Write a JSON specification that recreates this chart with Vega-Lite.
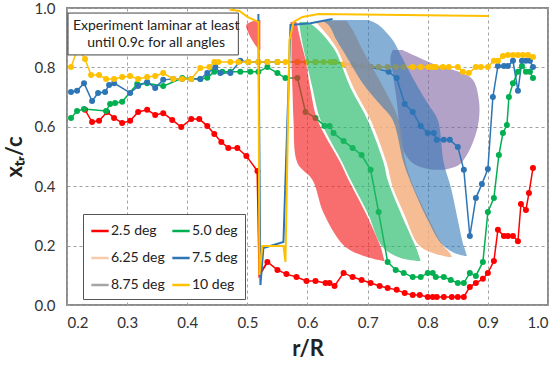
{
  "$schema": "https://vega.github.io/schema/vega-lite/v6.json",
  "width": 481,
  "height": 297,
  "autosize": {"type": "none"},
  "padding": {"left": 67, "top": 8, "right": 12, "bottom": 60},
  "background": "white",
  "config": {
    "font": "Lato",
    "view": {"stroke": "#8c8c8c", "strokeWidth": 2},
    "axis": {"grid": true, "gridDash": [3, 3], "gridColor": "#a0a0a0", "domain": false, "ticks": false, "labelFontSize": 15, "labelColor": "#333", "titleFontSize": 22, "titleFontWeight": "bold", "titleColor": "#222"},
    "legend": {"orient": "none", "legendX": 16, "legendY": 206, "columns": 2, "symbolType": "stroke", "symbolSize": 300, "symbolStrokeWidth": 2.5, "labelFontSize": 14, "labelColor": "#222", "padding": 7, "strokeColor": "#555", "fillColor": "white", "rowPadding": 10, "columnPadding": 2, "labelOffset": 1}
  },
  "datasets": {
    "markers": [
      {"s":"2.5 deg","p":1,"x":0.23,"y":0.657},{"s":"2.5 deg","p":1,"x":0.2417,"y":0.616},{"s":"2.5 deg","p":1,"x":0.2533,"y":0.62},{"s":"2.5 deg","p":1,"x":0.2667,"y":0.65},{"s":"2.5 deg","p":1,"x":0.2783,"y":0.63},{"s":"2.5 deg","p":1,"x":0.2917,"y":0.613},{"s":"2.5 deg","p":1,"x":0.305,"y":0.62},{"s":"2.5 deg","p":1,"x":0.3183,"y":0.65},{"s":"2.5 deg","p":1,"x":0.3333,"y":0.657},{"s":"2.5 deg","p":1,"x":0.3467,"y":0.64},{"s":"2.5 deg","p":1,"x":0.36,"y":0.646},{"s":"2.5 deg","p":1,"x":0.375,"y":0.623},{"s":"2.5 deg","p":1,"x":0.39,"y":0.599},{"s":"2.5 deg","p":1,"x":0.4067,"y":0.626},{"s":"2.5 deg","p":1,"x":0.42,"y":0.626},{"s":"2.5 deg","p":1,"x":0.4333,"y":0.603},{"s":"2.5 deg","p":1,"x":0.445,"y":0.576},{"s":"2.5 deg","p":1,"x":0.4567,"y":0.549},{"s":"2.5 deg","p":1,"x":0.4683,"y":0.529},{"s":"2.5 deg","p":1,"x":0.4833,"y":0.529},{"s":"2.5 deg","p":1,"x":0.4983,"y":0.502},{"s":"2.5 deg","p":1,"x":0.5167,"y":0.451},
      {"s":"2.5 deg","p":2,"x":0.5333,"y":0.145},{"s":"2.5 deg","p":2,"x":0.55,"y":0.118},{"s":"2.5 deg","p":2,"x":0.565,"y":0.104},{"s":"2.5 deg","p":2,"x":0.5817,"y":0.094},{"s":"2.5 deg","p":2,"x":0.5983,"y":0.081},{"s":"2.5 deg","p":2,"x":0.6133,"y":0.081},{"s":"2.5 deg","p":2,"x":0.63,"y":0.074},{"s":"2.5 deg","p":2,"x":0.6367,"y":0.074},{"s":"2.5 deg","p":2,"x":0.645,"y":0.064},{"s":"2.5 deg","p":2,"x":0.66,"y":0.108},{"s":"2.5 deg","p":2,"x":0.675,"y":0.094},{"s":"2.5 deg","p":2,"x":0.69,"y":0.084},{"s":"2.5 deg","p":2,"x":0.705,"y":0.074},{"s":"2.5 deg","p":2,"x":0.72,"y":0.064},{"s":"2.5 deg","p":2,"x":0.7333,"y":0.057},{"s":"2.5 deg","p":2,"x":0.7483,"y":0.051},{"s":"2.5 deg","p":2,"x":0.7617,"y":0.04},{"s":"2.5 deg","p":2,"x":0.775,"y":0.034},{"s":"2.5 deg","p":2,"x":0.7867,"y":0.034},{"s":"2.5 deg","p":2,"x":0.8,"y":0.027},{"s":"2.5 deg","p":2,"x":0.8083,"y":0.027},{"s":"2.5 deg","p":2,"x":0.815,"y":0.027},{"s":"2.5 deg","p":2,"x":0.8267,"y":0.027},{"s":"2.5 deg","p":2,"x":0.84,"y":0.027},{"s":"2.5 deg","p":2,"x":0.85,"y":0.027},{"s":"2.5 deg","p":2,"x":0.86,"y":0.027},{"s":"2.5 deg","p":2,"x":0.87,"y":0.061},{"s":"2.5 deg","p":2,"x":0.88,"y":0.074},{"s":"2.5 deg","p":2,"x":0.8917,"y":0.088},{"s":"2.5 deg","p":2,"x":0.9,"y":0.108},{"s":"2.5 deg","p":2,"x":0.91,"y":0.148},{"s":"2.5 deg","p":2,"x":0.9167,"y":0.253},{"s":"2.5 deg","p":2,"x":0.9267,"y":0.232},{"s":"2.5 deg","p":2,"x":0.9333,"y":0.232},{"s":"2.5 deg","p":2,"x":0.9417,"y":0.232},{"s":"2.5 deg","p":2,"x":0.95,"y":0.215},{"s":"2.5 deg","p":2,"x":0.955,"y":0.34},{"s":"2.5 deg","p":2,"x":0.9633,"y":0.32},{"s":"2.5 deg","p":2,"x":0.9683,"y":0.377},{"s":"2.5 deg","p":2,"x":0.975,"y":0.461},
      {"s":"5.0 deg","p":1,"x":0.2067,"y":0.63},{"s":"5.0 deg","p":1,"x":0.2167,"y":0.653},{"s":"5.0 deg","p":1,"x":0.2283,"y":0.66},{"s":"5.0 deg","p":1,"x":0.265,"y":0.653},{"s":"5.0 deg","p":1,"x":0.2717,"y":0.677},{"s":"5.0 deg","p":1,"x":0.28,"y":0.68},{"s":"5.0 deg","p":1,"x":0.2917,"y":0.684},{"s":"5.0 deg","p":1,"x":0.3167,"y":0.744},{"s":"5.0 deg","p":1,"x":0.3333,"y":0.747},{"s":"5.0 deg","p":1,"x":0.36,"y":0.737},{"s":"5.0 deg","p":1,"x":0.3917,"y":0.764},{"s":"5.0 deg","p":1,"x":0.4217,"y":0.761},{"s":"5.0 deg","p":1,"x":0.4333,"y":0.765},{"s":"5.0 deg","p":1,"x":0.445,"y":0.785},{"s":"5.0 deg","p":1,"x":0.4583,"y":0.785},{"s":"5.0 deg","p":1,"x":0.4717,"y":0.785},{"s":"5.0 deg","p":1,"x":0.4883,"y":0.785},{"s":"5.0 deg","p":1,"x":0.505,"y":0.785},{"s":"5.0 deg","p":1,"x":0.5183,"y":0.785},{"s":"5.0 deg","p":1,"x":0.5333,"y":0.801},{"s":"5.0 deg","p":1,"x":0.55,"y":0.781},{"s":"5.0 deg","p":1,"x":0.5633,"y":0.764},{"s":"5.0 deg","p":1,"x":0.5833,"y":0.764},{"s":"5.0 deg","p":1,"x":0.5967,"y":0.65},{"s":"5.0 deg","p":1,"x":0.6133,"y":0.63},{"s":"5.0 deg","p":1,"x":0.6283,"y":0.603},{"s":"5.0 deg","p":1,"x":0.6367,"y":0.603},{"s":"5.0 deg","p":1,"x":0.6433,"y":0.579},{"s":"5.0 deg","p":1,"x":0.66,"y":0.552},{"s":"5.0 deg","p":1,"x":0.675,"y":0.529},{"s":"5.0 deg","p":1,"x":0.69,"y":0.505},{"s":"5.0 deg","p":1,"x":0.705,"y":0.455},{"s":"5.0 deg","p":1,"x":0.7183,"y":0.313},{"s":"5.0 deg","p":1,"x":0.7333,"y":0.145},{"s":"5.0 deg","p":1,"x":0.7467,"y":0.118},{"s":"5.0 deg","p":1,"x":0.76,"y":0.108},{"s":"5.0 deg","p":1,"x":0.775,"y":0.094},{"s":"5.0 deg","p":1,"x":0.7883,"y":0.094},{"s":"5.0 deg","p":1,"x":0.8,"y":0.108},{"s":"5.0 deg","p":1,"x":0.8083,"y":0.108},{"s":"5.0 deg","p":1,"x":0.8133,"y":0.094},{"s":"5.0 deg","p":1,"x":0.8267,"y":0.094},{"s":"5.0 deg","p":1,"x":0.8383,"y":0.084},{"s":"5.0 deg","p":1,"x":0.85,"y":0.074},{"s":"5.0 deg","p":1,"x":0.86,"y":0.074},{"s":"5.0 deg","p":1,"x":0.87,"y":0.108},{"s":"5.0 deg","p":1,"x":0.88,"y":0.098},{"s":"5.0 deg","p":1,"x":0.8917,"y":0.145},{"s":"5.0 deg","p":1,"x":0.9,"y":0.313},{"s":"5.0 deg","p":1,"x":0.91,"y":0.36},{"s":"5.0 deg","p":1,"x":0.9183,"y":0.505},{"s":"5.0 deg","p":1,"x":0.925,"y":0.579},{"s":"5.0 deg","p":1,"x":0.9317,"y":0.606},{"s":"5.0 deg","p":1,"x":0.935,"y":0.7},{"s":"5.0 deg","p":1,"x":0.9417,"y":0.747},{"s":"5.0 deg","p":1,"x":0.95,"y":0.785},{"s":"5.0 deg","p":1,"x":0.9567,"y":0.805},{"s":"5.0 deg","p":1,"x":0.9633,"y":0.785},{"s":"5.0 deg","p":1,"x":0.97,"y":0.785},{"s":"5.0 deg","p":1,"x":0.975,"y":0.764},
      {"s":"7.5 deg","p":1,"x":0.2067,"y":0.717},{"s":"7.5 deg","p":1,"x":0.2167,"y":0.721},{"s":"7.5 deg","p":1,"x":0.2283,"y":0.747},{"s":"7.5 deg","p":1,"x":0.2417,"y":0.687},{"s":"7.5 deg","p":1,"x":0.2517,"y":0.714},{"s":"7.5 deg","p":1,"x":0.2633,"y":0.717},{"s":"7.5 deg","p":1,"x":0.27,"y":0.741},{"s":"7.5 deg","p":1,"x":0.2783,"y":0.747},{"s":"7.5 deg","p":1,"x":0.305,"y":0.714},{"s":"7.5 deg","p":1,"x":0.3183,"y":0.737},{"s":"7.5 deg","p":1,"x":0.3333,"y":0.751},{"s":"7.5 deg","p":1,"x":0.3467,"y":0.731},{"s":"7.5 deg","p":1,"x":0.36,"y":0.758},{"s":"7.5 deg","p":1,"x":0.3767,"y":0.761},{"s":"7.5 deg","p":1,"x":0.3917,"y":0.761},{"s":"7.5 deg","p":1,"x":0.4067,"y":0.761},{"s":"7.5 deg","p":1,"x":0.4217,"y":0.761},{"s":"7.5 deg","p":1,"x":0.4333,"y":0.781},{"s":"7.5 deg","p":1,"x":0.4467,"y":0.801},{"s":"7.5 deg","p":1,"x":0.455,"y":0.781},{"s":"7.5 deg","p":1,"x":0.4717,"y":0.781},{"s":"7.5 deg","p":1,"x":0.4883,"y":0.822},{"s":"7.5 deg","p":1,"x":0.5017,"y":0.818},{"s":"7.5 deg","p":1,"x":0.5183,"y":0.818},{"s":"7.5 deg","p":1,"x":0.5333,"y":0.818},{"s":"7.5 deg","p":1,"x":0.55,"y":0.818},{"s":"7.5 deg","p":1,"x":0.5833,"y":0.818},{"s":"7.5 deg","p":1,"x":0.6133,"y":0.818},{"s":"7.5 deg","p":1,"x":0.645,"y":0.818},{"s":"7.5 deg","p":1,"x":0.6767,"y":0.808},{"s":"7.5 deg","p":1,"x":0.705,"y":0.801},{"s":"7.5 deg","p":1,"x":0.735,"y":0.785},{"s":"7.5 deg","p":1,"x":0.7483,"y":0.764},{"s":"7.5 deg","p":1,"x":0.7617,"y":0.677},{"s":"7.5 deg","p":1,"x":0.775,"y":0.65},{"s":"7.5 deg","p":1,"x":0.7883,"y":0.603},{"s":"7.5 deg","p":1,"x":0.8,"y":0.579},{"s":"7.5 deg","p":1,"x":0.81,"y":0.579},{"s":"7.5 deg","p":1,"x":0.815,"y":0.556},{"s":"7.5 deg","p":1,"x":0.8267,"y":0.556},{"s":"7.5 deg","p":1,"x":0.8367,"y":0.556},{"s":"7.5 deg","p":1,"x":0.85,"y":0.532},{"s":"7.5 deg","p":1,"x":0.86,"y":0.455},{"s":"7.5 deg","p":1,"x":0.87,"y":0.232},{"s":"7.5 deg","p":1,"x":0.88,"y":0.36},{"s":"7.5 deg","p":1,"x":0.89,"y":0.407},{"s":"7.5 deg","p":1,"x":0.9,"y":0.458},{"s":"7.5 deg","p":1,"x":0.9083,"y":0.7},{"s":"7.5 deg","p":1,"x":0.9167,"y":0.805},{"s":"7.5 deg","p":1,"x":0.9267,"y":0.805},{"s":"7.5 deg","p":1,"x":0.9333,"y":0.805},{"s":"7.5 deg","p":1,"x":0.9417,"y":0.822},{"s":"7.5 deg","p":1,"x":0.95,"y":0.721},{"s":"7.5 deg","p":1,"x":0.9567,"y":0.822},{"s":"7.5 deg","p":1,"x":0.9633,"y":0.822},{"s":"7.5 deg","p":1,"x":0.97,"y":0.822},{"s":"7.5 deg","p":1,"x":0.975,"y":0.801},
      {"s":"10 deg","p":1,"x":0.2067,"y":0.801},{"s":"10 deg","p":1,"x":0.2183,"y":0.865},{"s":"10 deg","p":1,"x":0.23,"y":0.828},{"s":"10 deg","p":1,"x":0.24,"y":0.774},{"s":"10 deg","p":1,"x":0.2533,"y":0.774},{"s":"10 deg","p":1,"x":0.265,"y":0.761},{"s":"10 deg","p":1,"x":0.2783,"y":0.761},{"s":"10 deg","p":1,"x":0.2917,"y":0.768},{"s":"10 deg","p":1,"x":0.305,"y":0.771},{"s":"10 deg","p":1,"x":0.3183,"y":0.761},{"s":"10 deg","p":1,"x":0.3333,"y":0.768},{"s":"10 deg","p":1,"x":0.3467,"y":0.771},{"s":"10 deg","p":1,"x":0.36,"y":0.781},{"s":"10 deg","p":1,"x":0.3767,"y":0.761},{"s":"10 deg","p":1,"x":0.3917,"y":0.761},{"s":"10 deg","p":1,"x":0.4067,"y":0.761},{"s":"10 deg","p":1,"x":0.4217,"y":0.798},{"s":"10 deg","p":1,"x":0.4367,"y":0.801},{"s":"10 deg","p":1,"x":0.445,"y":0.818},{"s":"10 deg","p":1,"x":0.4517,"y":0.818},{"s":"10 deg","p":1,"x":0.4717,"y":0.818},{"s":"10 deg","p":1,"x":0.485,"y":0.818},{"s":"10 deg","p":1,"x":0.5017,"y":0.818},{"s":"10 deg","p":1,"x":0.5183,"y":0.818},{"s":"10 deg","p":1,"x":0.5333,"y":0.818},{"s":"10 deg","p":1,"x":0.55,"y":0.818},{"s":"10 deg","p":1,"x":0.5633,"y":0.818},{"s":"10 deg","p":1,"x":0.5833,"y":0.818},{"s":"10 deg","p":1,"x":0.5983,"y":0.818},{"s":"10 deg","p":1,"x":0.6133,"y":0.818},{"s":"10 deg","p":1,"x":0.6267,"y":0.818},{"s":"10 deg","p":1,"x":0.6383,"y":0.818},{"s":"10 deg","p":1,"x":0.645,"y":0.818},{"s":"10 deg","p":1,"x":0.66,"y":0.811},{"s":"10 deg","p":1,"x":0.6767,"y":0.808},{"s":"10 deg","p":1,"x":0.6917,"y":0.805},{"s":"10 deg","p":1,"x":0.705,"y":0.801},{"s":"10 deg","p":1,"x":0.7183,"y":0.801},{"s":"10 deg","p":1,"x":0.7333,"y":0.801},{"s":"10 deg","p":1,"x":0.7467,"y":0.801},{"s":"10 deg","p":1,"x":0.76,"y":0.801},{"s":"10 deg","p":1,"x":0.775,"y":0.801},{"s":"10 deg","p":1,"x":0.7883,"y":0.801},{"s":"10 deg","p":1,"x":0.8017,"y":0.801},{"s":"10 deg","p":1,"x":0.8083,"y":0.801},{"s":"10 deg","p":1,"x":0.8133,"y":0.801},{"s":"10 deg","p":1,"x":0.825,"y":0.801},{"s":"10 deg","p":1,"x":0.835,"y":0.801},{"s":"10 deg","p":1,"x":0.85,"y":0.801},{"s":"10 deg","p":1,"x":0.8583,"y":0.785},{"s":"10 deg","p":1,"x":0.8683,"y":0.781},{"s":"10 deg","p":1,"x":0.88,"y":0.801},{"s":"10 deg","p":1,"x":0.8883,"y":0.801},{"s":"10 deg","p":1,"x":0.9,"y":0.801},{"s":"10 deg","p":1,"x":0.91,"y":0.822},{"s":"10 deg","p":1,"x":0.9167,"y":0.822},{"s":"10 deg","p":1,"x":0.925,"y":0.838},{"s":"10 deg","p":1,"x":0.9333,"y":0.842},{"s":"10 deg","p":1,"x":0.9417,"y":0.842},{"s":"10 deg","p":1,"x":0.95,"y":0.842},{"s":"10 deg","p":1,"x":0.9583,"y":0.842},{"s":"10 deg","p":1,"x":0.9667,"y":0.842},{"s":"10 deg","p":1,"x":0.975,"y":0.835}
    ],
    "model": [
      {"s":"2.5 deg","i":1,"x":0.5167,"y":0.451},{"s":"2.5 deg","i":2,"x":0.52,"y":0.101},{"s":"2.5 deg","i":3,"x":0.5333,"y":0.145},
      {"s":"7.5 deg","i":1,"x":0.5183,"y":0.98},{"s":"7.5 deg","i":2,"x":0.5217,"y":0.067},{"s":"7.5 deg","i":3,"x":0.5267,"y":0.192},{"s":"7.5 deg","i":4,"x":0.56,"y":0.212},{"s":"7.5 deg","i":5,"x":0.565,"y":0.522},{"s":"7.5 deg","i":6,"x":0.5717,"y":0.943},{"s":"7.5 deg","i":7,"x":0.605,"y":0.949},{"s":"7.5 deg","i":8,"x":0.6417,"y":0.963},
      {"s":"10 deg","i":1,"x":0.47,"y":0.995},{"s":"10 deg","i":2,"x":0.4867,"y":0.99},{"s":"10 deg","i":3,"x":0.5,"y":0.97},{"s":"10 deg","i":4,"x":0.5183,"y":0.953},{"s":"10 deg","i":5,"x":0.52,"y":0.101},{"s":"10 deg","i":6,"x":0.525,"y":0.199},{"s":"10 deg","i":7,"x":0.56,"y":0.199},{"s":"10 deg","i":8,"x":0.5633,"y":0.145},{"s":"10 deg","i":9,"x":0.5667,"y":0.522},{"s":"10 deg","i":10,"x":0.57,"y":0.892},{"s":"10 deg","i":11,"x":0.5767,"y":0.953},{"s":"10 deg","i":12,"x":0.5917,"y":0.97},{"s":"10 deg","i":13,"x":0.6183,"y":0.98},{"s":"10 deg","i":14,"x":0.9017,"y":0.973}
    ],
    "bands": [
      {"b":"purple","g":"p","y":0.859,"x":0.7417,"x2":0.7583},{"b":"purple","g":"p","y":0.838,"x":0.7383,"x2":0.78},{"b":"purple","g":"p","y":0.808,"x":0.7383,"x2":0.8133},{"b":"purple","g":"p","y":0.785,"x":0.7417,"x2":0.8517},{"b":"purple","g":"p","y":0.758,"x":0.7433,"x2":0.875},{"b":"purple","g":"p","y":0.69,"x":0.7483,"x2":0.885},{"b":"purple","g":"p","y":0.623,"x":0.7517,"x2":0.885},{"b":"purple","g":"p","y":0.556,"x":0.755,"x2":0.8767},{"b":"purple","g":"p","y":0.505,"x":0.7633,"x2":0.865},{"b":"purple","g":"p","y":0.471,"x":0.78,"x2":0.8517},{"b":"purple","g":"p","y":0.455,"x":0.8083,"x2":0.8267},
      {"b":"red","g":"r","y":0.953,"x":0.5717,"x2":0.5817},{"b":"red","g":"r","y":0.892,"x":0.5733,"x2":0.5883},{"b":"red","g":"r","y":0.825,"x":0.5733,"x2":0.5967},{"b":"red","g":"r","y":0.724,"x":0.575,"x2":0.605},{"b":"red","g":"r","y":0.623,"x":0.5767,"x2":0.6167},{"b":"red","g":"r","y":0.478,"x":0.5833,"x2":0.655},{"b":"red","g":"r","y":0.421,"x":0.6083,"x2":0.6683},{"b":"red","g":"r","y":0.31,"x":0.6267,"x2":0.6967},{"b":"red","g":"r","y":0.195,"x":0.6633,"x2":0.7217},{"b":"red","g":"r","y":0.158,"x":0.705,"x2":0.7267},{"b":"red","g":"r","y":0.148,"x":0.7267,"x2":0.7283},
      {"b":"red","g":"r2","y":0.96,"x":0.5167,"x2":0.5217},{"b":"red","g":"r2","y":0.943,"x":0.4983,"x2":0.5217},{"b":"red","g":"r2","y":0.909,"x":0.5033,"x2":0.5217},{"b":"red","g":"r2","y":0.875,"x":0.5133,"x2":0.5217},{"b":"red","g":"r2","y":0.859,"x":0.52,"x2":0.5217},
      {"b":"green","g":"g","y":0.953,"x":0.5867,"x2":0.5983},{"b":"green","g":"g","y":0.943,"x":0.5867,"x2":0.6083},{"b":"green","g":"g","y":0.865,"x":0.5933,"x2":0.6433},{"b":"green","g":"g","y":0.731,"x":0.6083,"x2":0.6717},{"b":"green","g":"g","y":0.623,"x":0.6217,"x2":0.7},{"b":"green","g":"g","y":0.478,"x":0.6583,"x2":0.7267},{"b":"green","g":"g","y":0.421,"x":0.6717,"x2":0.7333},{"b":"green","g":"g","y":0.31,"x":0.7,"x2":0.755},{"b":"green","g":"g","y":0.195,"x":0.725,"x2":0.78},{"b":"green","g":"g","y":0.158,"x":0.755,"x2":0.7867},{"b":"green","g":"g","y":0.148,"x":0.7833,"x2":0.7883},
      {"b":"peach","g":"o","y":0.956,"x":0.6117,"x2":0.665},{"b":"peach","g":"o","y":0.92,"x":0.6283,"x2":0.6767},{"b":"peach","g":"o","y":0.865,"x":0.6483,"x2":0.69},{"b":"peach","g":"o","y":0.731,"x":0.6767,"x2":0.7267},{"b":"peach","g":"o","y":0.623,"x":0.705,"x2":0.7517},{"b":"peach","g":"o","y":0.478,"x":0.7317,"x2":0.7633},{"b":"peach","g":"o","y":0.397,"x":0.7417,"x2":0.7767},{"b":"peach","g":"o","y":0.31,"x":0.76,"x2":0.7967},{"b":"peach","g":"o","y":0.202,"x":0.785,"x2":0.825},{"b":"peach","g":"o","y":0.175,"x":0.8083,"x2":0.8367},{"b":"peach","g":"o","y":0.162,"x":0.8333,"x2":0.84},
      {"b":"blue","g":"b","y":0.96,"x":0.6217,"x2":0.7017},{"b":"blue","g":"b","y":0.943,"x":0.635,"x2":0.7183},{"b":"blue","g":"b","y":0.892,"x":0.6483,"x2":0.7417},{"b":"blue","g":"b","y":0.842,"x":0.6633,"x2":0.755},{"b":"blue","g":"b","y":0.747,"x":0.6917,"x2":0.78},{"b":"blue","g":"b","y":0.673,"x":0.7217,"x2":0.8017},{"b":"blue","g":"b","y":0.623,"x":0.7417,"x2":0.8167},{"b":"blue","g":"b","y":0.478,"x":0.76,"x2":0.8267},{"b":"blue","g":"b","y":0.397,"x":0.775,"x2":0.8383},{"b":"blue","g":"b","y":0.286,"x":0.8,"x2":0.85},{"b":"blue","g":"b","y":0.209,"x":0.8217,"x2":0.8583},{"b":"blue","g":"b","y":0.178,"x":0.8417,"x2":0.8633},{"b":"blue","g":"b","y":0.165,"x":0.8617,"x2":0.865}
    ],
    "note": [{"x":0.2017,"x2":0.485,"y":0.983,"y2":0.842}],
    "noteText": [{"x":0.3483,"y":0.939,"t":"Experiment laminar at least"},{"x":0.3483,"y":0.882,"t":"until 0.9c for all angles"}]
  },
  "layer": [
    {
      "data": {"name": "bands"},
      "transform": [{"filter": "datum.b === 'purple'"}],
      "mark": {"type": "area", "orient": "horizontal", "fill": "#8064a2", "opacity": 0.6, "interpolate": "catmull-rom"},
      "encoding": {
        "y": {"field": "y", "type": "quantitative", "scale": {"domain": [0, 1], "nice": false},
              "axis": {"values": [0, 0.2, 0.4, 0.6, 0.8, 1.0], "format": ".1f", "labelPadding": 12, "title": "xₜᵣ/c", "titlePadding": 8}},
        "x": {"field": "x", "type": "quantitative", "scale": {"domain": [0.2, 1.0], "nice": false, "zero": false},
              "axis": {"values": [0.2, 0.3, 0.4, 0.5, 0.6, 0.7, 0.8, 0.9, 1.0], "format": ".1f", "labelPadding": 10, "title": "r/R", "titlePadding": 8}},
        "x2": {"field": "x2"}
      }
    },
    {
      "data": {"name": "markers"},
      "transform": [{"filter": "datum.s !== '10 deg'"}],
      "mark": {"type": "line", "strokeWidth": 1.5, "point": {"filled": true, "size": 36}},
      "encoding": {
        "x": {"field": "x", "type": "quantitative"},
        "y": {"field": "y", "type": "quantitative"},
        "color": {"field": "s", "type": "nominal",
                  "scale": {"domain": ["2.5 deg", "6.25 deg", "8.75 deg", "5.0 deg", "7.5 deg", "10 deg"], "range": ["#ff0000", "#f8cbad", "#a5a5a5", "#00b050", "#2e75b6", "#ffc000"]},
                  "legend": {"title": null}},
        "detail": {"field": "p"}
      }
    },
    {
      "data": {"name": "markers"},
      "transform": [{"filter": "datum.s === '10 deg'"}],
      "mark": {"type": "line", "strokeWidth": 1.5, "point": {"filled": true, "size": 36}},
      "encoding": {
        "x": {"field": "x", "type": "quantitative"},
        "y": {"field": "y", "type": "quantitative"},
        "color": {"field": "s", "type": "nominal"}
      }
    },
    {
      "data": {"name": "bands"},
      "transform": [{"filter": "datum.b === 'red'"}],
      "mark": {"type": "area", "orient": "horizontal", "fill": "#f52a2a", "opacity": 0.68, "interpolate": "catmull-rom"},
      "encoding": {"y": {"field": "y", "type": "quantitative"}, "x": {"field": "x", "type": "quantitative"}, "x2": {"field": "x2"}, "detail": {"field": "g"}}
    },
    {
      "data": {"name": "bands"},
      "transform": [{"filter": "datum.b === 'green'"}],
      "mark": {"type": "area", "orient": "horizontal", "fill": "#22b865", "opacity": 0.65, "interpolate": "catmull-rom"},
      "encoding": {"y": {"field": "y", "type": "quantitative"}, "x": {"field": "x", "type": "quantitative"}, "x2": {"field": "x2"}}
    },
    {
      "data": {"name": "bands"},
      "transform": [{"filter": "datum.b === 'peach'"}],
      "mark": {"type": "area", "orient": "horizontal", "fill": "#f4b183", "opacity": 0.85, "interpolate": "catmull-rom"},
      "encoding": {"y": {"field": "y", "type": "quantitative"}, "x": {"field": "x", "type": "quantitative"}, "x2": {"field": "x2"}}
    },
    {
      "data": {"name": "bands"},
      "transform": [{"filter": "datum.b === 'blue'"}],
      "mark": {"type": "area", "orient": "horizontal", "fill": "#2e75b6", "opacity": 0.58, "interpolate": "catmull-rom"},
      "encoding": {"y": {"field": "y", "type": "quantitative"}, "x": {"field": "x", "type": "quantitative"}, "x2": {"field": "x2"}}
    },
    {
      "data": {"name": "model"},
      "mark": {"type": "line", "strokeWidth": 2},
      "encoding": {
        "x": {"field": "x", "type": "quantitative"},
        "y": {"field": "y", "type": "quantitative"},
        "color": {"field": "s", "type": "nominal"},
        "order": {"field": "i"}
      }
    },
    {
      "data": {"name": "note"},
      "mark": {"type": "rect", "fill": "white", "stroke": "#444", "strokeWidth": 1},
      "encoding": {"x": {"field": "x", "type": "quantitative"}, "x2": {"field": "x2"}, "y": {"field": "y", "type": "quantitative"}, "y2": {"field": "y2"}}
    },
    {
      "data": {"name": "noteText"},
      "mark": {"type": "text", "fontSize": 14, "baseline": "middle", "align": "center", "color": "#222"},
      "encoding": {"x": {"field": "x", "type": "quantitative"}, "y": {"field": "y", "type": "quantitative"}, "text": {"field": "t"}}
    }
  ]
}
